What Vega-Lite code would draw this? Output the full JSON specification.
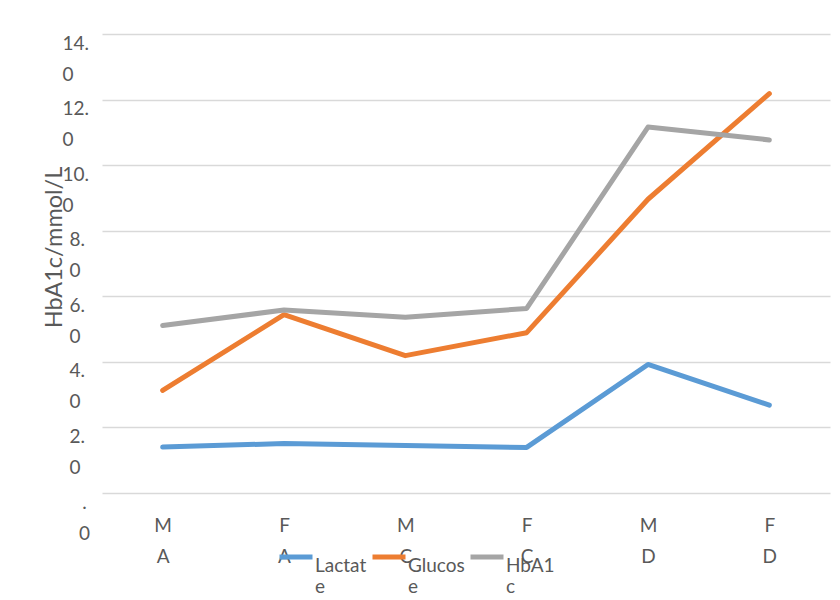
{
  "$schema": "https://vega.github.io/schema/vega-lite/v6.json",
  "width": 728,
  "height": 459,
  "autosize": {"type": "none"},
  "padding": {"left": 102, "top": 34, "right": 10, "bottom": 107},
  "background": "white",
  "data": {
    "values": [
      {"group": "MA", "series": "Lactate", "value": 1.40},
      {"group": "FA", "series": "Lactate", "value": 1.51},
      {"group": "MC", "series": "Lactate", "value": 1.45},
      {"group": "FC", "series": "Lactate", "value": 1.39},
      {"group": "MD", "series": "Lactate", "value": 3.92},
      {"group": "FD", "series": "Lactate", "value": 2.68},
      {"group": "MA", "series": "Glucose", "value": 3.13},
      {"group": "FA", "series": "Glucose", "value": 5.44},
      {"group": "MC", "series": "Glucose", "value": 4.19},
      {"group": "FC", "series": "Glucose", "value": 4.89},
      {"group": "MD", "series": "Glucose", "value": 8.96},
      {"group": "FD", "series": "Glucose", "value": 12.18},
      {"group": "MA", "series": "HbA1c", "value": 5.11},
      {"group": "FA", "series": "HbA1c", "value": 5.58},
      {"group": "MC", "series": "HbA1c", "value": 5.36},
      {"group": "FC", "series": "HbA1c", "value": 5.63},
      {"group": "MD", "series": "HbA1c", "value": 11.16},
      {"group": "FD", "series": "HbA1c", "value": 10.77}
    ]
  },
  "mark": {"type": "line", "strokeWidth": 5, "strokeCap": "round", "strokeJoin": "round"},
  "encoding": {
    "x": {
      "field": "group",
      "type": "nominal",
      "sort": ["MA", "FA", "MC", "FC", "MD", "FD"],
      "scale": {"type": "point", "padding": 0.5},
      "axis": {
        "title": null,
        "domain": false,
        "ticks": false,
        "labelAngle": 0,
        "labelPadding": 23,
        "labelBaseline": "top",
        "labelLineHeight": 31,
        "labelExpr": "[substring(datum.label, 0, 1), substring(datum.label, 1, 2)]"
      }
    },
    "y": {
      "field": "value",
      "type": "quantitative",
      "scale": {"domain": [0, 14], "nice": false},
      "axis": {
        "title": "HbA1c/mmol/L",
        "values": [0, 2, 4, 6, 8, 10, 12, 14],
        "domain": false,
        "ticks": false,
        "tickSize": 0,
        "grid": true,
        "gridColor": "#d9d9d9",
        "gridWidth": 1.5,
        "labelAlign": {"condition": {"test": "datum.value == 0", "value": "center"}, "value": "left"},
        "labelBaseline": "top",
        "labelPadding": {
          "condition": [
            {"test": "datum.value == 0", "value": 18},
            {"test": "datum.value >= 10", "value": 40}
          ],
          "value": 33
        },
        "labelLineHeight": 31,
        "labelExpr": "datum.value == 0 ? ['.', '0'] : [slice(format(datum.value, '.1f'), 0, -1), '0']",
        "titleX": -48,
        "titleY": 213,
        "titleAngle": -90,
        "titleAlign": "center",
        "titleBaseline": "middle",
        "titleFontSize": 23.5,
        "titleFontWeight": "normal"
      }
    },
    "color": {
      "field": "series",
      "type": "nominal",
      "sort": ["Lactate", "Glucose", "HbA1c"],
      "scale": {"domain": ["Lactate", "Glucose", "HbA1c"], "range": ["#5b9bd5", "#ed7d31", "#a5a5a5"]},
      "legend": {
        "title": null,
        "orient": "none",
        "direction": "horizontal",
        "legendX": 175,
        "legendY": 504,
        "symbolType": "stroke",
        "symbolSize": 1089,
        "symbolStrokeWidth": 5,
        "labelFontSize": 19,
        "labelBaseline": "top",
        "labelLineHeight": 31,
        "labelOffset": 0,
        "columnPadding": -5,
        "labelExpr": "[slice(datum.label, 0, -1), slice(datum.label, -1)]"
      }
    }
  },
  "config": {
    "font": "Lato",
    "view": {"stroke": null},
    "axis": {"labelFont": "Lato", "labelFontSize": 19, "labelColor": "#595959", "titleFont": "Lato", "titleColor": "#595959"},
    "legend": {"labelFont": "Lato", "labelColor": "#595959"}
  }
}
